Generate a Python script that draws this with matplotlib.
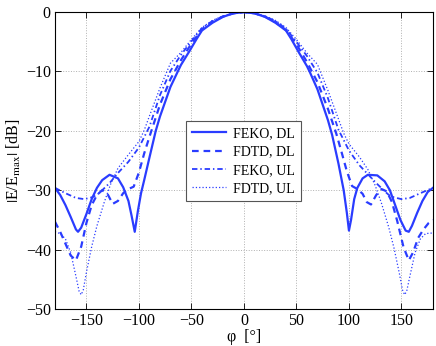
import matplotlib
matplotlib.use('Agg')
import matplotlib.pyplot as plt

# angle (deg) and normalised field (dB)
phi_feko_dl = [-180, -175, -170, -165, -160, -158, -155, -150, -145, -140, -135, -128,
               -120, -115, -110, -107, -104, -101, -98, -95, -90, -84, -80, -70, -63,
               -60, -52, -45, -40, -30, -20, -10, 0,
               10, 20, 30, 40, 45, 52, 60, 63, 70, 80, 84, 90, 95, 98, 100, 102,
               105, 108, 113, 118, 127, 134, 139, 144, 149, 154, 157, 160, 165, 170,
               175, 180]
db_feko_dl = [-29.6, -30.8, -32.5, -34.5, -36.6, -37.0, -36.3, -34.0, -31.5, -29.6, -28.3, -27.4,
              -28.0, -29.5, -31.8, -34.3, -37.0, -33.5, -30.5, -28.3, -24.5, -20.0, -17.6, -12.6, -10.0,
              -8.9, -6.6, -4.5, -3.1, -1.8, -0.8, -0.2, 0.0,
              -0.2, -0.8, -1.8, -3.1, -4.5, -6.7, -9.1, -10.2, -13.0, -18.2, -20.7, -25.5, -30.0, -33.8, -36.8, -35.0,
              -31.5, -29.6, -28.0, -27.4, -27.5, -28.5, -30.0, -32.5, -35.0, -36.8, -37.0, -36.0, -33.8, -31.8,
              -30.3, -29.6]

phi_fdtd_dl = [-180, -175, -170, -165, -160, -155, -150, -145, -140, -135, -130, -125,
               -120, -115, -110, -105, -100, -95, -90, -80, -70, -60, -50, -40, -30,
               -20, -10, 0,
               10, 20, 30, 40, 50, 60, 70, 80, 88, 93, 98, 103, 108, 113, 117, 121,
               126, 131, 136, 141, 146, 152, 157, 161, 166, 171, 176, 180]
db_fdtd_dl = [-35.3, -37.0, -39.0, -41.0, -41.8, -39.5, -35.5, -32.5, -30.8, -30.0, -30.6, -32.3,
              -31.8, -30.5, -29.8, -29.4, -27.0, -23.8, -21.0, -15.6, -11.3, -8.1, -5.3, -2.9, -1.65,
              -0.75, -0.2, 0.0,
              -0.2, -0.75, -1.7, -3.0, -5.4, -8.4, -11.8, -16.3, -20.5, -23.6, -26.8, -29.3, -29.8, -30.6, -32.0, -32.4,
              -30.8, -29.8, -30.2, -32.0, -35.2, -39.6, -41.8, -40.5, -38.0, -36.6, -35.5, -35.0]

phi_feko_ul = [-180, -170, -160, -152, -145, -140, -135, -128, -120, -110, -100, -90,
               -80, -70, -60, -50, -40, -30, -20, -10, 0,
               10, 20, 30, 40, 50, 60, 70, 80, 90, 100, 110, 118, 126, 133, 138, 143,
               150, 158, 168, 180]
db_feko_ul = [-29.6, -30.5, -31.3, -31.5, -31.2, -30.8, -30.0, -28.8, -27.1, -25.2, -22.8, -19.3,
              -14.0, -9.9, -7.2, -4.9, -2.7, -1.5, -0.7, -0.2, 0.0,
              -0.2, -0.7, -1.5, -2.8, -5.0, -7.4, -10.2, -14.5, -19.8, -23.3, -25.8, -27.3, -28.8, -30.0, -30.8, -31.2,
              -31.5, -31.3, -30.5, -29.6]

phi_fdtd_ul = [-180, -175, -170, -165, -160, -157, -155, -153, -150, -145, -140, -133,
               -127, -120, -110, -100, -95, -90, -80, -70, -60, -50, -40, -30, -20,
               -10, 0,
               10, 20, 30, 40, 50, 60, 70, 80, 90, 95, 100, 110, 118, 125, 131, 138,
               143, 148, 151, 153, 155, 158, 163, 168, 173, 180]
db_fdtd_ul = [-37.0, -37.3, -38.2, -40.5, -44.5, -47.0, -47.6, -46.8, -43.8, -39.5, -36.0, -32.0,
              -29.0, -26.3, -24.0, -21.8, -19.9, -17.5, -12.8, -8.6, -6.8, -4.6, -2.6, -1.4, -0.65,
              -0.2, 0.0,
              -0.2, -0.65, -1.4, -2.6, -4.6, -6.9, -8.8, -13.2, -18.0, -20.4, -22.2, -24.4, -26.5, -29.2, -32.2, -36.3,
              -39.8, -44.0, -46.8, -47.6, -47.0, -44.5, -40.5, -38.2, -37.3, -37.2]

labels = ['FEKO, DL', 'FDTD, DL', 'FEKO, UL', 'FDTD, UL']
xticks = [-150, -100, -50, 0, 50, 100, 150]
yticks = [-50, -40, -30, -20, -10, 0]


def main():
    plt.rcParams['font.family'] = ['Liberation Serif', 'DejaVu Serif']
    plt.rcParams['mathtext.fontset'] = 'stix'
    blue = '#2a3cff'

    fig = plt.figure(figsize=(4.36, 3.46), dpi=100)
    ax = fig.add_axes([0.126, 0.107, 0.867, 0.858])

    ax.plot(phi_feko_dl, db_feko_dl, '-', color=blue, lw=1.6, label=labels[0])
    ax.plot(phi_fdtd_dl, db_fdtd_dl, '--', color=blue, lw=1.6, dashes=(3, 2.2), label=labels[1])
    ax.plot(phi_feko_ul, db_feko_ul, '-.', color=blue, lw=1.3, dashes=(3, 1.6, 0.8, 1.6), label=labels[2])
    ax.plot(phi_fdtd_ul, db_fdtd_ul, ':', color=blue, lw=0.9, label=labels[3])

    ax.set_xlim(-180, 180)
    ax.set_ylim(-50, 0)
    ax.set_xticks(xticks)
    ax.set_yticks(yticks)
    ax.tick_params(direction='in', top=True, right=True, labelsize=11.5, length=4, width=0.6, pad=3)
    ax.grid(True, linestyle=':', color='#b0b0b0', lw=0.7)
    for s in ax.spines.values():
        s.set_linewidth(0.8)

    ax.set_xlabel('φ  [°]', fontsize=11.5, labelpad=0)
    ax.set_ylabel(r'$|$E/E$_{\rm max}|$ [dB]', fontsize=11.5, labelpad=2)

    leg = ax.legend(loc='center', bbox_to_anchor=(0.499, 0.498), fontsize=10, fancybox=False,
                    edgecolor='#555555', framealpha=1, handlelength=2.4, labelspacing=0.38,
                    borderpad=0.45, handletextpad=0.5)
    leg.get_frame().set_linewidth(0.8)

    fig.savefig('out.png', dpi=100)


if __name__ == '__main__':
    main()
